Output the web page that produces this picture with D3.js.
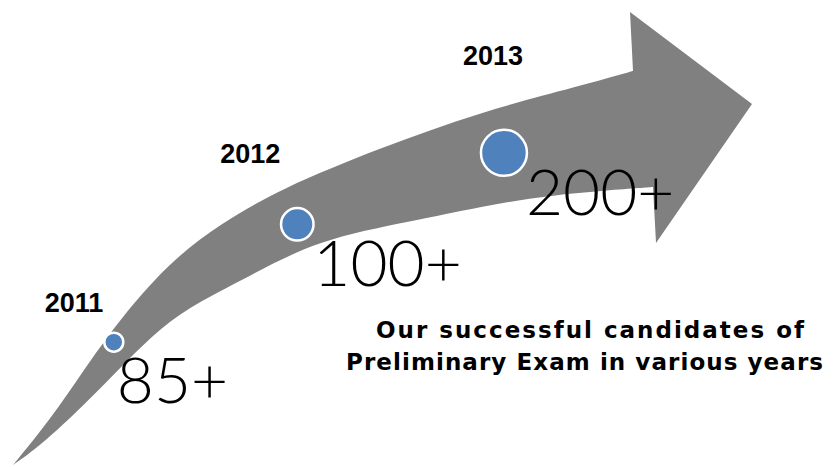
<!DOCTYPE html>
<html>
<head>
<meta charset="utf-8">
<script src="https://cdn.jsdelivr.net/npm/d3@7"></script>
<style>
  html, body { margin: 0; padding: 0; background: #fff; }
  svg { display: block; }
</style>
</head>
<body>
<svg id="chart" width="834" height="467"></svg>
<script>
// ---- data ----
const years = [2011, 2012, 2013];
const yearLabels = ["2011", "2012", "2013"];
const values = [85, 100, 200];
const valueLabels = ["85+", "100+", "200+"];
const captionLines = ["Our successful candidates of", "Preliminary Exam in various years"];

// ---- layout (geometry, not data) ----
const svg = d3.select("#chart");

// Arrow outline geometry
const upperEdge = [[13,465],[13,465],[50,420],[83,371],[117,323],[167,264],[220,224],[280,189],[380,148],[480,112],[580,86],[633,71],[633,71]];
const headPts = [[630,12],[752,104],[656,243],[653,187]];
const lowerEdge = [[653,187],[653,187],[547,195],[480,207],[413,221],[317,240],[250,276],[200,301],[160,328],[127,361],[83,406],[40,446],[13,465],[13,465]];

const smooth = d3.line().curve(d3.curveBasis);
const straight = d3.line();
let dPath = smooth(upperEdge);
dPath += straight([upperEdge[upperEdge.length-1], ...headPts]).replace(/^M/, "L");
dPath += smooth(lowerEdge).replace(/^M/, "L") + "Z";

svg.append("path")
  .attr("d", dPath)
  .attr("fill", "#808080");

// Guide curve along the arrow body; circles placed along it via a scale
const guidePts = [[13,465],[60,400],[114,342],[200,276],[285,230],[400,183],[503,153],[640,128]];
const curve = d3.line().curve(d3.curveCatmullRom.alpha(0.5));
const guideNode = svg.append("path")
  .attr("d", curve(guidePts))
  .attr("fill", "none")
  .attr("stroke", "none")
  .node();
const total = guideNode.getTotalLength();

const lenScale = d3.scalePoint().domain(years).range([0.2165 * total, 0.812 * total]);
const rScale = d3.scaleLinear().domain(d3.extent(years)).range([9.5, 23]);

const pts = years.map(y => guideNode.getPointAtLength(lenScale(y)));

const g = svg.append("g");
g.selectAll("circle")
  .data(years)
  .join("circle")
  .attr("cx", (d, i) => pts[i].x)
  .attr("cy", (d, i) => pts[i].y)
  .attr("r", d => rScale(d))
  .attr("fill", "#4F81BD")
  .attr("stroke", "#ffffff")
  .attr("stroke-width", 2.5);

// value labels, offsets relative to circles
const valOffset = [[3, 61], [16, 62], [22, 62]];
g.selectAll("text.val")
  .data(valueLabels)
  .join("text")
  .attr("class", "val")
  .attr("x", (d, i) => pts[i].x + valOffset[i][0])
  .attr("y", (d, i) => pts[i].y + valOffset[i][1])
  .attr("font-family", "Lato, 'Open Sans', sans-serif")
  .attr("font-weight", 300)
  .attr("font-size", 64)
  .attr("fill", "#000")
  .text(d => d);

// year labels
const yearOffset = [[-69, -30], [-77, -61], [-41, -88]];
g.selectAll("text.yr")
  .data(yearLabels)
  .join("text")
  .attr("class", "yr")
  .attr("x", (d, i) => pts[i].x + yearOffset[i][0])
  .attr("y", (d, i) => pts[i].y + yearOffset[i][1])
  .attr("font-family", "'Liberation Sans', Arial, sans-serif")
  .attr("font-weight", "bold")
  .attr("font-size", 27)
  .attr("fill", "#000")
  .text(d => d);

// caption
const capWidths = [428, 477];
svg.append("g")
  .selectAll("text")
  .data(captionLines)
  .join("text")
  .attr("x", (d, i) => [376, 346][i])
  .attr("y", (d, i) => 338 + i * 32)
  .attr("textLength", (d, i) => capWidths[i])
  .attr("lengthAdjust", "spacing")
  .attr("font-family", "'DejaVu Sans', Verdana, sans-serif")
  .attr("font-weight", "bold")
  .attr("font-size", 23)
  .attr("fill", "#000")
  .text(d => d);
</script>
</body>
</html>
